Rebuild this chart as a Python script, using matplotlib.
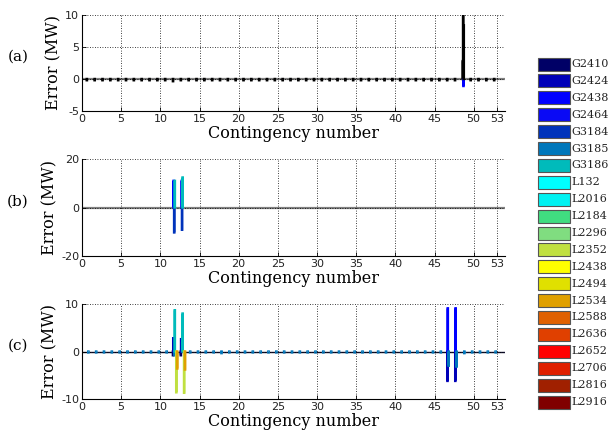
import matplotlib
matplotlib.use("Agg")
import matplotlib.pyplot as plt
from matplotlib.patches import Rectangle

plt.rcParams["axes.unicode_minus"] = False

# ---------------- data ----------------
contingencies = list(range(1, 54))
series_names = ["G2410", "G2424", "G2438", "G2464", "G3184", "G3185", "G3186",
                "L132", "L2016", "L2184", "L2296", "L2352", "L2438", "L2494",
                "L2534", "L2588", "L2636", "L2652", "L2706", "L2816", "L2916"]
series_colors = ["#000066", "#0000B8", "#0000FF", "#0A0AF5", "#0033BB", "#0077BB",
                 "#00BBBB", "#00FFFF", "#00F2F2", "#40DD80", "#80DD80", "#C0E040",
                 "#FFFF00", "#E0E000", "#E0A000", "#E06000", "#E04000", "#FF0000",
                 "#E02000", "#A02000", "#800000"]

# panel (a): small background error of G2410 at every contingency
a_background_series = "G2410"
a_background = [-0.2, -0.2, -0.2, -0.2, -0.2, -0.2, -0.2, -0.2, -0.2, -0.2,
                -0.2, -0.35, -0.2, -0.2, -0.2, -0.2, -0.2, -0.2, -0.2, -0.2,
                -0.2, -0.2, -0.2, -0.2, -0.2, -0.2, -0.2, -0.2, -0.2, -0.2,
                -0.2, -0.2, -0.2, -0.2, -0.2, -0.2, -0.2, -0.2, -0.2, -0.2,
                -0.2, -0.2, -0.2, -0.2, -0.2, -0.2, -0.2, -0.2, 0.0, -0.2,
                -0.2, -0.2, -0.2]
a_cont = [49, 49, 49, 49]
a_series = ["G2410", "G2424", "G2438", "G2464"]
a_value = [2.8, 12.0, -1.1, 8.4]

# panel (b)
b_cont = [12, 12, 12, 13, 13, 13]
b_series = ["G2438", "G3184", "G3186", "G2464", "G3184", "G3186"]
b_value = [11.0, -10.3, 11.0, 11.0, -9.2, 12.4]

# panel (c): small background error of G3185 at every contingency
c_background_series = "G3185"
c_background = [-0.2, -0.2, -0.2, -0.2, -0.2, -0.2, -0.2, -0.2, -0.2, -0.2,
                -0.2, 0.0, 0.0, -0.2, -0.2, -0.2, -0.2, -0.35, -0.2, -0.2,
                -0.2, -0.2, -0.2, -0.2, -0.2, -0.2, -0.2, -0.2, -0.2, -0.2,
                -0.2, -0.2, -0.2, -0.2, -0.2, -0.2, -0.2, -0.2, -0.2, -0.2,
                -0.2, -0.2, -0.2, -0.2, -0.2, -0.2, 0.0, 0.0, -0.35, -0.2,
                -0.2, -0.2, -0.2]
c_cont = [12, 12, 12, 12, 12, 12, 13, 13, 13, 13, 13, 13, 47, 47, 47, 48, 48, 48]
c_series = ["G2410", "G2424", "G3185", "G3186", "L2352", "L2534",
            "G2410", "G2424", "G3184", "G3186", "L2352", "L2534",
            "G2424", "G2438", "G3185", "G2424", "G2438", "G3185"]
c_value = [-0.8, 2.8, -0.8, 8.7, -8.6, -3.6,
           -0.8, 2.6, 1.8, 8.0, -8.7, -3.8,
           -6.2, 9.1, -3.0, -6.2, 9.1, -3.2]

x_ticks = [0, 5, 10, 15, 20, 25, 30, 35, 40, 45, 50, 53]
a_yticks = [-5, 0, 5, 10]
b_yticks = [-20, 0, 20]
c_yticks = [-10, 0, 10]
panel_labels = ["(a)", "(b)", "(c)"]


def build_matrix(bg_series, bg_values, conts, sers, vals):
    mat = {s: [0.0] * len(contingencies) for s in series_names}
    if bg_series is not None:
        mat[bg_series] = list(bg_values)
    for c, s, v in zip(conts, sers, vals):
        mat[s][contingencies.index(c)] = v
    return mat


panels = [
    (build_matrix(a_background_series, a_background, a_cont, a_series, a_value), (-5, 10), a_yticks),
    (build_matrix(None, None, b_cont, b_series, b_value), (-20, 20), b_yticks),
    (build_matrix(c_background_series, c_background, c_cont, c_series, c_value), (-10, 10), c_yticks),
]

# ---------------- figure ----------------
fig = plt.figure(figsize=(6.11, 4.32), dpi=100)
W, H = 611.0, 432.0
boxes = [(82, 15, 505, 111), (82, 159, 505, 256), (82, 304, 505, 399)]
serif = "DejaVu Serif"

n = len(series_names)
group_w = 0.8
bw = group_w / n

for k, ((mat, ylim, yt), (x0, y0, x1, y1)) in enumerate(zip(panels, boxes)):
    ax = fig.add_axes([x0 / W, 1 - y1 / H, (x1 - x0) / W, (y1 - y0) / H])
    # baseline
    if k < 2:
        ax.axhline(0, color="#808080", lw=1.6, zorder=1)
    else:
        ax.axhline(0, color="#101030", lw=1.0, zorder=1)
    for i, (s, col) in enumerate(zip(series_names, series_colors)):
        xs, hs, ecs = [], [], []
        for j, c in enumerate(contingencies):
            v = mat[s][j]
            if v == 0:
                continue
            xs.append(c - group_w / 2 + (i + 0.5) * bw)
            hs.append(v)
            if k == 0 and (v > 0 or abs(v) < 0.5):
                ecs.append("black")
            else:
                ecs.append(col)
        if xs:
            bars = ax.bar(xs, hs, width=bw, color=col, edgecolor=ecs,
                          linewidth=1.7, zorder=3)
            for b in bars:
                b.set_snap(False)
    ax.set_xlim(0, 54)
    ax.set_ylim(*ylim)
    ax.set_xticks(x_ticks)
    ax.set_yticks(yt)
    ax.grid(True, linestyle=(0, (1, 2)), color="black", linewidth=0.6, zorder=2)
    ax.set_axisbelow(False)
    for sp in ("top", "right"):
        ax.spines[sp].set_visible(False)
    ax.spines["left"].set_linewidth(0.8)
    ax.spines["bottom"].set_linewidth(0.8)
    ax.tick_params(direction="in", length=3, width=0.6, labelsize=8, pad=2,
                   labelcolor="#222222")
    ax.set_xlabel("Contingency number", fontfamily=serif, fontsize=11.5, labelpad=1)
    ax.set_ylabel("Error (MW)", fontfamily=serif, fontsize=11.5, labelpad=2)
    fig.text(18 / W, 1 - ((y0 + y1) / 2 - 6) / H, panel_labels[k], fontfamily=serif,
             fontsize=11, ha="center", va="center")

# ---------------- legend ----------------
for i, (s, col) in enumerate(zip(series_names, series_colors)):
    yc = 64 + i * 16.9
    fig.patches.append(Rectangle((538 / W, 1 - (yc + 6.5) / H), 32 / W, 13 / H,
                                 transform=fig.transFigure, facecolor=col,
                                 edgecolor="#555555", linewidth=0.8))
    fig.text(571 / W, 1 - yc / H, s, fontfamily=serif, fontsize=8,
             ha="left", va="center", color="#222222")

fig.savefig("out.png", dpi=100)
